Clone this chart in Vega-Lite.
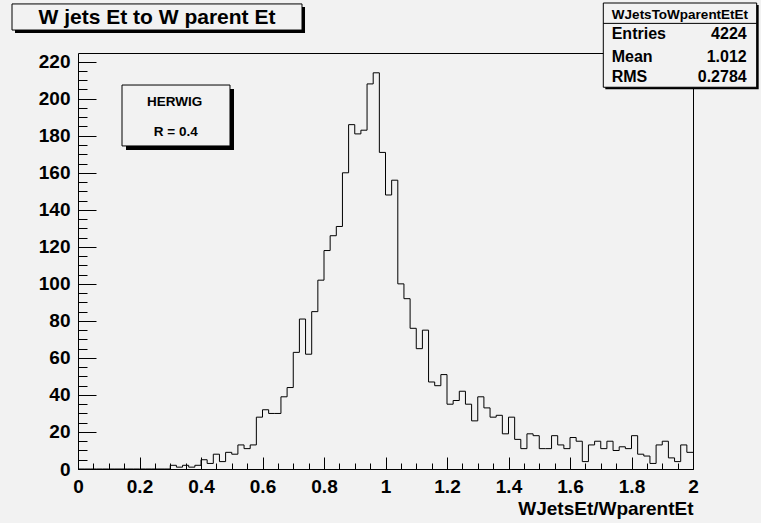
{
  "$schema": "https://vega.github.io/schema/vega-lite/v6.json",
  "width": 615,
  "height": 416,
  "autosize": {"type": "none"},
  "padding": {"left": 78, "top": 53, "right": 68, "bottom": 54},
  "background": "#f2f2f2",
  "config": {
    "view": {"stroke": "#000000", "strokeWidth": 1, "fill": "#f2f2f2"},
    "font": "Liberation Sans",
    "axis": {
      "labelFont": "Liberation Sans", "labelFontWeight": "bold", "labelFontSize": 19, "labelColor": "#000000",
      "tickColor": "#000000", "tickWidth": 1, "domain": false, "grid": false,
      "titleFont": "Liberation Sans", "titleFontWeight": "bold", "titleFontSize": 19, "titleColor": "#000000",
      "labelFlush": false, "labelOverlap": false
    }
  },
  "datasets": {
    "hist": [{"lo":0,"count":0},{"lo":0.02,"count":0},{"lo":0.04,"count":0},{"lo":0.06,"count":0},{"lo":0.08,"count":0},{"lo":0.1,"count":0},{"lo":0.12,"count":0},{"lo":0.14,"count":0},{"lo":0.16,"count":0},{"lo":0.18,"count":0},{"lo":0.2,"count":0},{"lo":0.22,"count":0},{"lo":0.24,"count":0},{"lo":0.26,"count":0},{"lo":0.28,"count":0},{"lo":0.3,"count":2},{"lo":0.32,"count":1},{"lo":0.34,"count":2},{"lo":0.36,"count":1},{"lo":0.38,"count":2},{"lo":0.4,"count":5},{"lo":0.42,"count":3},{"lo":0.44,"count":8},{"lo":0.46,"count":4},{"lo":0.48,"count":9},{"lo":0.5,"count":8},{"lo":0.52,"count":13},{"lo":0.54,"count":11},{"lo":0.56,"count":13},{"lo":0.58,"count":28},{"lo":0.6,"count":32},{"lo":0.62,"count":30},{"lo":0.64,"count":30},{"lo":0.66,"count":39},{"lo":0.68,"count":44},{"lo":0.7,"count":63},{"lo":0.72,"count":81},{"lo":0.74,"count":62},{"lo":0.76,"count":85},{"lo":0.78,"count":102},{"lo":0.8,"count":118},{"lo":0.82,"count":126},{"lo":0.84,"count":131},{"lo":0.86,"count":160},{"lo":0.88,"count":186},{"lo":0.9,"count":181},{"lo":0.92,"count":183},{"lo":0.94,"count":208},{"lo":0.96,"count":214},{"lo":0.98,"count":171},{"lo":1,"count":148},{"lo":1.02,"count":156},{"lo":1.04,"count":100},{"lo":1.06,"count":92},{"lo":1.08,"count":76},{"lo":1.1,"count":65},{"lo":1.12,"count":75},{"lo":1.14,"count":47},{"lo":1.16,"count":45},{"lo":1.18,"count":51},{"lo":1.2,"count":35},{"lo":1.22,"count":37},{"lo":1.24,"count":42},{"lo":1.26,"count":35},{"lo":1.28,"count":26},{"lo":1.3,"count":39},{"lo":1.32,"count":33},{"lo":1.34,"count":28},{"lo":1.36,"count":29},{"lo":1.38,"count":19},{"lo":1.4,"count":28},{"lo":1.42,"count":16},{"lo":1.44,"count":11},{"lo":1.46,"count":19},{"lo":1.48,"count":18},{"lo":1.5,"count":11},{"lo":1.52,"count":11},{"lo":1.54,"count":18},{"lo":1.56,"count":13},{"lo":1.58,"count":11},{"lo":1.6,"count":17},{"lo":1.62,"count":15},{"lo":1.64,"count":4},{"lo":1.66,"count":13},{"lo":1.68,"count":15},{"lo":1.7,"count":11},{"lo":1.72,"count":15},{"lo":1.74,"count":10},{"lo":1.76,"count":12},{"lo":1.78,"count":11},{"lo":1.8,"count":18},{"lo":1.82,"count":8},{"lo":1.84,"count":7},{"lo":1.86,"count":3},{"lo":1.88,"count":13},{"lo":1.9,"count":15},{"lo":1.92,"count":6},{"lo":1.94,"count":4},{"lo":1.96,"count":13},{"lo":1.98,"count":9},{"lo":2,"count":9}]
  },
  "resolve": {"axis": {"x": "independent", "y": "independent"}},
  "layer": [
    {
      "data": {"name": "hist"},
      "mark": {"type": "point", "opacity": 0},
      "encoding": {
        "x": {"field": "lo", "type": "quantitative", "scale": {"domain": [0, 2], "nice": false, "zero": false},
              "axis": {"orient": "bottom", "values": [0,0.05,0.1,0.15,0.2,0.25,0.3,0.35,0.4,0.45,0.5,0.55,0.6,0.65,0.7,0.75,0.8,0.85,0.9,0.95,1,1.05,1.1,1.15,1.2,1.25,1.3,1.35,1.4,1.45,1.5,1.55,1.6,1.65,1.7,1.75,1.8,1.85,1.9,1.95,2], "tickSize": -6, "labels": false, "title": null}},
        "y": {"field": "count", "type": "quantitative", "scale": {"domain": [0, 224.7], "nice": false},
              "axis": {"orient": "left", "values": [0,5,10,15,20,25,30,35,40,45,50,55,60,65,70,75,80,85,90,95,100,105,110,115,120,125,130,135,140,145,150,155,160,165,170,175,180,185,190,195,200,205,210,215,220], "tickSize": -9, "labels": false, "title": null}}
      }
    },
    {
      "data": {"name": "hist"},
      "mark": {"type": "line", "interpolate": "step-after", "color": "#000000", "strokeWidth": 1},
      "encoding": {
        "x": {"field": "lo", "type": "quantitative", "scale": {"domain": [0, 2], "nice": false, "zero": false},
              "axis": {"orient": "bottom", "values": [0,0.2,0.4,0.6,0.8,1,1.2,1.4,1.6,1.8,2], "format": "~g", "tickSize": -12, "labelPadding": 20,
                       "title": "WJetsEt/WparentEt", "titleAnchor": "end", "titlePadding": 3}},
        "y": {"field": "count", "type": "quantitative", "scale": {"domain": [0, 224.7], "nice": false},
              "axis": {"orient": "left", "values": [0,20,40,60,80,100,120,140,160,180,200,220], "tickSize": -18, "labelPadding": 26, "title": null}}
      }
    },
    {
      "data": {"values": [{}]},
      "layer": [
        {"mark": {"type": "rect", "fill": "#000000", "xOffset": 3, "x2Offset": 3, "yOffset": 3, "y2Offset": 3},
         "encoding": {"x": {"datum": -0.2146, "type": "quantitative", "axis": null}, "x2": {"datum": 0.7285}, "y": {"datum": 251.2, "type": "quantitative", "axis": null}, "y2": {"datum": 237.1}}},
        {"mark": {"type": "rect", "fill": "#f2f2f2", "stroke": "#000000", "strokeWidth": 1},
         "encoding": {"x": {"datum": -0.2146, "type": "quantitative", "axis": null}, "x2": {"datum": 0.7285}, "y": {"datum": 251.2, "type": "quantitative", "axis": null}, "y2": {"datum": 237.1}}},
        {"mark": {"type": "text", "text": "W jets Et to W parent Et", "font": "Liberation Sans", "fontWeight": "bold", "fontSize": 21, "align": "center", "baseline": "alphabetic", "color": "#000000"},
         "encoding": {"x": {"datum": 0.257, "type": "quantitative", "axis": null}, "y": {"datum": 240.2, "type": "quantitative", "axis": null}}},

        {"mark": {"type": "rect", "fill": "#000000", "xOffset": 4, "x2Offset": 4, "yOffset": 4, "y2Offset": 4},
         "encoding": {"x": {"datum": 0.1431, "type": "quantitative", "axis": null}, "x2": {"datum": 0.4943}, "y": {"datum": 207.4, "type": "quantitative", "axis": null}, "y2": {"datum": 174.5}}},
        {"mark": {"type": "rect", "fill": "#f2f2f2", "stroke": "#000000", "strokeWidth": 1},
         "encoding": {"x": {"datum": 0.1431, "type": "quantitative", "axis": null}, "x2": {"datum": 0.4943}, "y": {"datum": 207.4, "type": "quantitative", "axis": null}, "y2": {"datum": 174.5}}},
        {"mark": {"type": "text", "text": "HERWIG", "font": "Liberation Sans", "fontWeight": "bold", "fontSize": 13.5, "align": "center", "baseline": "alphabetic", "color": "#000000"},
         "encoding": {"x": {"datum": 0.3145, "type": "quantitative", "axis": null}, "y": {"datum": 196.1, "type": "quantitative", "axis": null}}},
        {"mark": {"type": "text", "text": "R = 0.4", "font": "Liberation Sans", "fontWeight": "bold", "fontSize": 13.5, "align": "center", "baseline": "alphabetic", "color": "#000000"},
         "encoding": {"x": {"datum": 0.318, "type": "quantitative", "axis": null}, "y": {"datum": 179.9, "type": "quantitative", "axis": null}}},

        {"mark": {"type": "rect", "fill": "#000000", "xOffset": 2, "x2Offset": 2, "yOffset": 2, "y2Offset": 2},
         "encoding": {"x": {"datum": 1.7083, "type": "quantitative", "axis": null}, "x2": {"datum": 2.2071}, "y": {"datum": 251.7, "type": "quantitative", "axis": null}, "y2": {"datum": 206.2}}},
        {"mark": {"type": "rect", "fill": "#f2f2f2", "stroke": "#000000", "strokeWidth": 1},
         "encoding": {"x": {"datum": 1.7083, "type": "quantitative", "axis": null}, "x2": {"datum": 2.2071}, "y": {"datum": 251.7, "type": "quantitative", "axis": null}, "y2": {"datum": 206.2}}},
        {"mark": {"type": "rule", "color": "#000000", "strokeWidth": 1},
         "encoding": {"x": {"datum": 1.7083, "type": "quantitative", "axis": null}, "x2": {"datum": 2.2071}, "y": {"datum": 240.7, "type": "quantitative", "axis": null}}},
        {"mark": {"type": "text", "text": "WJetsToWparentEtEt", "font": "Liberation Sans", "fontWeight": "bold", "fontSize": 13.5, "align": "center", "baseline": "alphabetic", "color": "#000000"},
         "encoding": {"x": {"datum": 1.9577, "type": "quantitative", "axis": null}, "y": {"datum": 242.9, "type": "quantitative", "axis": null}}},
        {"mark": {"type": "text", "text": "Entries", "font": "Liberation Sans", "fontWeight": "bold", "fontSize": 16, "align": "left", "baseline": "alphabetic", "color": "#000000"},
         "encoding": {"x": {"datum": 1.7356, "type": "quantitative", "axis": null}, "y": {"datum": 232.1, "type": "quantitative", "axis": null}}},
        {"mark": {"type": "text", "text": "Mean", "font": "Liberation Sans", "fontWeight": "bold", "fontSize": 16, "align": "left", "baseline": "alphabetic", "color": "#000000"},
         "encoding": {"x": {"datum": 1.7356, "type": "quantitative", "axis": null}, "y": {"datum": 220.0, "type": "quantitative", "axis": null}}},
        {"mark": {"type": "text", "text": "RMS", "font": "Liberation Sans", "fontWeight": "bold", "fontSize": 16, "align": "left", "baseline": "alphabetic", "color": "#000000"},
         "encoding": {"x": {"datum": 1.7356, "type": "quantitative", "axis": null}, "y": {"datum": 209.2, "type": "quantitative", "axis": null}}},
        {"mark": {"type": "text", "text": "4224", "font": "Liberation Sans", "fontWeight": "bold", "fontSize": 16, "align": "right", "baseline": "alphabetic", "color": "#000000"},
         "encoding": {"x": {"datum": 2.1746, "type": "quantitative", "axis": null}, "y": {"datum": 232.1, "type": "quantitative", "axis": null}}},
        {"mark": {"type": "text", "text": "1.012", "font": "Liberation Sans", "fontWeight": "bold", "fontSize": 16, "align": "right", "baseline": "alphabetic", "color": "#000000"},
         "encoding": {"x": {"datum": 2.1746, "type": "quantitative", "axis": null}, "y": {"datum": 220.0, "type": "quantitative", "axis": null}}},
        {"mark": {"type": "text", "text": "0.2784", "font": "Liberation Sans", "fontWeight": "bold", "fontSize": 16, "align": "right", "baseline": "alphabetic", "color": "#000000"},
         "encoding": {"x": {"datum": 2.1746, "type": "quantitative", "axis": null}, "y": {"datum": 209.2, "type": "quantitative", "axis": null}}}
      ]
    }
  ]
}
